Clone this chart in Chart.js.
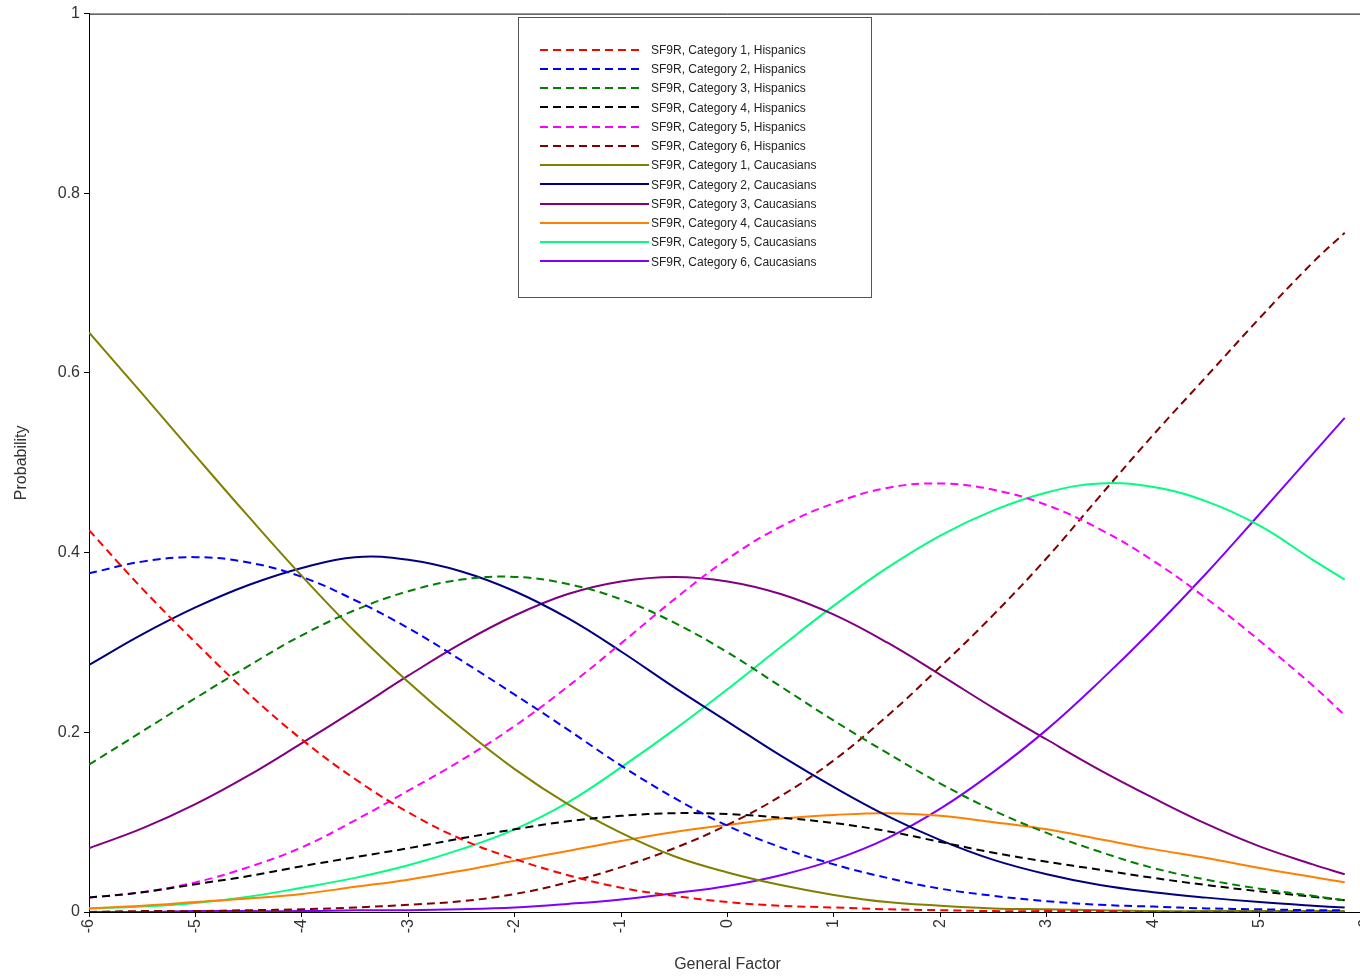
<!DOCTYPE html>
<html>
<head>
<meta charset="utf-8">
<title>SF9R category curves</title>
<script src="https://cdn.jsdelivr.net/npm/chart.js@4.4.1/dist/chart.umd.min.js"></script>
<style>
  html, body { margin: 0; padding: 0; background: #fff; overflow: hidden; }
  #wrap { width: 1360px; height: 977px; overflow: hidden; }
</style>
</head>
<body>
<div id="wrap"><canvas id="myChart" width="1376" height="977"></canvas></div>
<script>
const factor = [-6, -5.5, -5, -4.5, -4, -3.5, -3, -2.5, -2, -1.5, -1, -0.5, 0,
  0.5, 1, 1.5, 2, 2.5, 3, 3.5, 4, 4.5, 5, 5.5, 5.8];

const labels = [
  'SF9R, Category 1, Hispanics', 'SF9R, Category 2, Hispanics', 'SF9R, Category 3, Hispanics',
  'SF9R, Category 4, Hispanics', 'SF9R, Category 5, Hispanics', 'SF9R, Category 6, Hispanics',
  'SF9R, Category 1, Caucasians', 'SF9R, Category 2, Caucasians', 'SF9R, Category 3, Caucasians',
  'SF9R, Category 4, Caucasians', 'SF9R, Category 5, Caucasians', 'SF9R, Category 6, Caucasians'
];

// Hispanics (dashed)
const hisp1 = [0.425, 0.360, 0.300, 0.243, 0.192, 0.148, 0.111, 0.081, 0.059, 0.041, 0.027, 0.018, 0.011,
  0.007, 0.005, 0.003, 0.002, 0.001, 0.001, 0.001, 0.000, 0.000, 0.000, 0.000, 0.000];
const hisp2 = [0.377, 0.390, 0.395, 0.389, 0.373, 0.347, 0.316, 0.280, 0.242, 0.203, 0.163, 0.127, 0.096,
  0.072, 0.053, 0.038, 0.026, 0.018, 0.012, 0.008, 0.006, 0.004, 0.003, 0.002, 0.002];
const hisp3 = [0.164, 0.201, 0.238, 0.274, 0.308, 0.336, 0.357, 0.370, 0.373, 0.365, 0.348, 0.322, 0.289,
  0.251, 0.213, 0.177, 0.143, 0.113, 0.088, 0.067, 0.049, 0.036, 0.026, 0.018, 0.013];
const hisp4 = [0.016, 0.022, 0.031, 0.040, 0.051, 0.061, 0.071, 0.082, 0.092, 0.101, 0.107, 0.110, 0.109,
  0.105, 0.099, 0.090, 0.078, 0.066, 0.056, 0.047, 0.038, 0.030, 0.023, 0.017, 0.013];
const hisp5 = [0.016, 0.022, 0.033, 0.050, 0.072, 0.102, 0.135, 0.169, 0.207, 0.251, 0.299, 0.348, 0.393,
  0.429, 0.455, 0.472, 0.477, 0.470, 0.453, 0.426, 0.391, 0.349, 0.302, 0.252, 0.219];
const hisp6 = [0.000, 0.001, 0.001, 0.002, 0.003, 0.005, 0.008, 0.012, 0.020, 0.033, 0.050, 0.071, 0.097,
  0.129, 0.169, 0.218, 0.273, 0.331, 0.394, 0.463, 0.531, 0.596, 0.661, 0.723, 0.756];

// Caucasians (solid)
const cauc1 = [0.645, 0.577, 0.508, 0.440, 0.374, 0.312, 0.256, 0.205, 0.159, 0.120, 0.088, 0.062, 0.044,
  0.030, 0.019, 0.011, 0.007, 0.004, 0.003, 0.002, 0.001, 0.001, 0.001, 0.001, 0.001];
const cauc2 = [0.275, 0.309, 0.339, 0.364, 0.383, 0.395, 0.392, 0.379, 0.357, 0.327, 0.290, 0.250, 0.212,
  0.174, 0.139, 0.107, 0.080, 0.058, 0.042, 0.030, 0.022, 0.016, 0.011, 0.007, 0.005];
const cauc3 = [0.071, 0.093, 0.120, 0.152, 0.188, 0.225, 0.263, 0.299, 0.330, 0.354, 0.368, 0.373, 0.368,
  0.354, 0.331, 0.300, 0.264, 0.227, 0.192, 0.158, 0.127, 0.098, 0.073, 0.053, 0.042];
const cauc4 = [0.004, 0.007, 0.011, 0.015, 0.020, 0.028, 0.036, 0.046, 0.057, 0.068, 0.079, 0.089, 0.097,
  0.104, 0.108, 0.110, 0.107, 0.100, 0.092, 0.081, 0.070, 0.060, 0.049, 0.039, 0.033];
const cauc5 = [0.004, 0.006, 0.010, 0.017, 0.027, 0.038, 0.052, 0.070, 0.092, 0.122, 0.161, 0.203, 0.248,
  0.295, 0.341, 0.383, 0.419, 0.447, 0.467, 0.477, 0.473, 0.457, 0.430, 0.392, 0.370];
const cauc6 = [0.000, 0.000, 0.001, 0.001, 0.001, 0.002, 0.002, 0.003, 0.005, 0.009, 0.014, 0.021, 0.029,
  0.041, 0.058, 0.082, 0.115, 0.156, 0.203, 0.257, 0.315, 0.377, 0.443, 0.510, 0.550];

const series = [hisp1, hisp2, hisp3, hisp4, hisp5, hisp6, cauc1, cauc2, cauc3, cauc4, cauc5, cauc6];
const colors = ['#ff0000', '#0000ff', '#008000', '#000000', '#ff00ff', '#800000',
  '#808000', '#000080', '#800080', '#ff8000', '#00ff80', '#8000ff'];

const datasets = series.map(function (vals, i) {
  return {
    label: labels[i],
    data: vals.map(function (v, j) { return { x: factor[j], y: v }; }),
    borderColor: colors[i],
    backgroundColor: colors[i],
    borderWidth: 2,
    borderDash: i < 6 ? [8, 5] : [],
    pointRadius: 0,
    fill: false,
    tension: 0.4
  };
});

// legend box drawn inside the plot, plus the top frame line
const boxLegend = {
  id: 'boxLegend',
  afterDatasetsDraw(chart) {
    const ctx = chart.ctx;
    const a = chart.chartArea;
    ctx.save();
    ctx.strokeStyle = '#000';
    ctx.lineWidth = 1;
    ctx.beginPath();
    ctx.moveTo(a.left, a.top + 0.5);
    ctx.lineTo(a.right, a.top + 0.5);
    ctx.stroke();

    ctx.fillStyle = '#fff';
    ctx.fillRect(518, 17, 353, 280);
    ctx.strokeStyle = '#555';
    ctx.strokeRect(518.5, 17.5, 353, 280);

    ctx.font = '12px "Liberation Sans", Arial, sans-serif';
    ctx.textBaseline = 'middle';
    chart.data.datasets.forEach(function (ds, i) {
      const y = 49.5 + i * 19.25;
      ctx.strokeStyle = ds.borderColor;
      ctx.lineWidth = 2;
      ctx.setLineDash(ds.borderDash);
      ctx.beginPath();
      ctx.moveTo(540, Math.round(y));
      ctx.lineTo(ds.borderDash.length ? 642 : 649, Math.round(y));
      ctx.stroke();
      ctx.setLineDash([]);
      ctx.fillStyle = '#222';
      ctx.fillText(ds.label, 651, y + 1);
    });
    ctx.restore();
  }
};

var ctx = document.getElementById('myChart');

new Chart(ctx, {
  type: 'line',
  data: { datasets: datasets },
  options: {
    responsive: false,
    animation: false,
    layout: { padding: { top: 13, right: 10, left: 0, bottom: 0 } },
    plugins: { legend: { display: false }, tooltip: { enabled: false } },
    scales: {
      x: {
        type: 'linear',
        min: -6,
        max: 6,
        afterFit: function (s) { s.height = 65; s.paddingLeft = 0; s.paddingRight = 0; },
        ticks: {
          stepSize: 1,
          minRotation: 90,
          maxRotation: 90,
          autoSkip: false,
          padding: 2,
          color: '#333',
          font: { family: '"Liberation Sans", Arial, sans-serif', size: 16 }
        },
        grid: { drawOnChartArea: false, drawTicks: true, tickLength: 5, color: '#000' },
        border: { display: true, color: '#000', width: 1 },
        title: {
          display: true,
          text: 'General Factor',
          color: '#333',
          padding: { top: 0, bottom: 3 },
          font: { family: '"Liberation Sans", Arial, sans-serif', size: 16 }
        }
      },
      y: {
        min: 0,
        max: 1,
        afterFit: function (s) { s.width = 89; },
        ticks: {
          stepSize: 0.2,
          padding: 4,
          color: '#333',
          font: { family: '"Liberation Sans", Arial, sans-serif', size: 16 },
          callback: function (v) { return String(Number(v.toFixed(1))); }
        },
        grid: { drawOnChartArea: false, drawTicks: true, tickLength: 5, color: '#000' },
        border: { display: true, color: '#000', width: 1 },
        title: {
          display: true,
          text: 'Probability',
          color: '#333',
          padding: { top: 12, bottom: 0 },
          font: { family: '"Liberation Sans", Arial, sans-serif', size: 16 }
        }
      }
    }
  },
  plugins: [boxLegend]
});
</script>
</body>
</html>
